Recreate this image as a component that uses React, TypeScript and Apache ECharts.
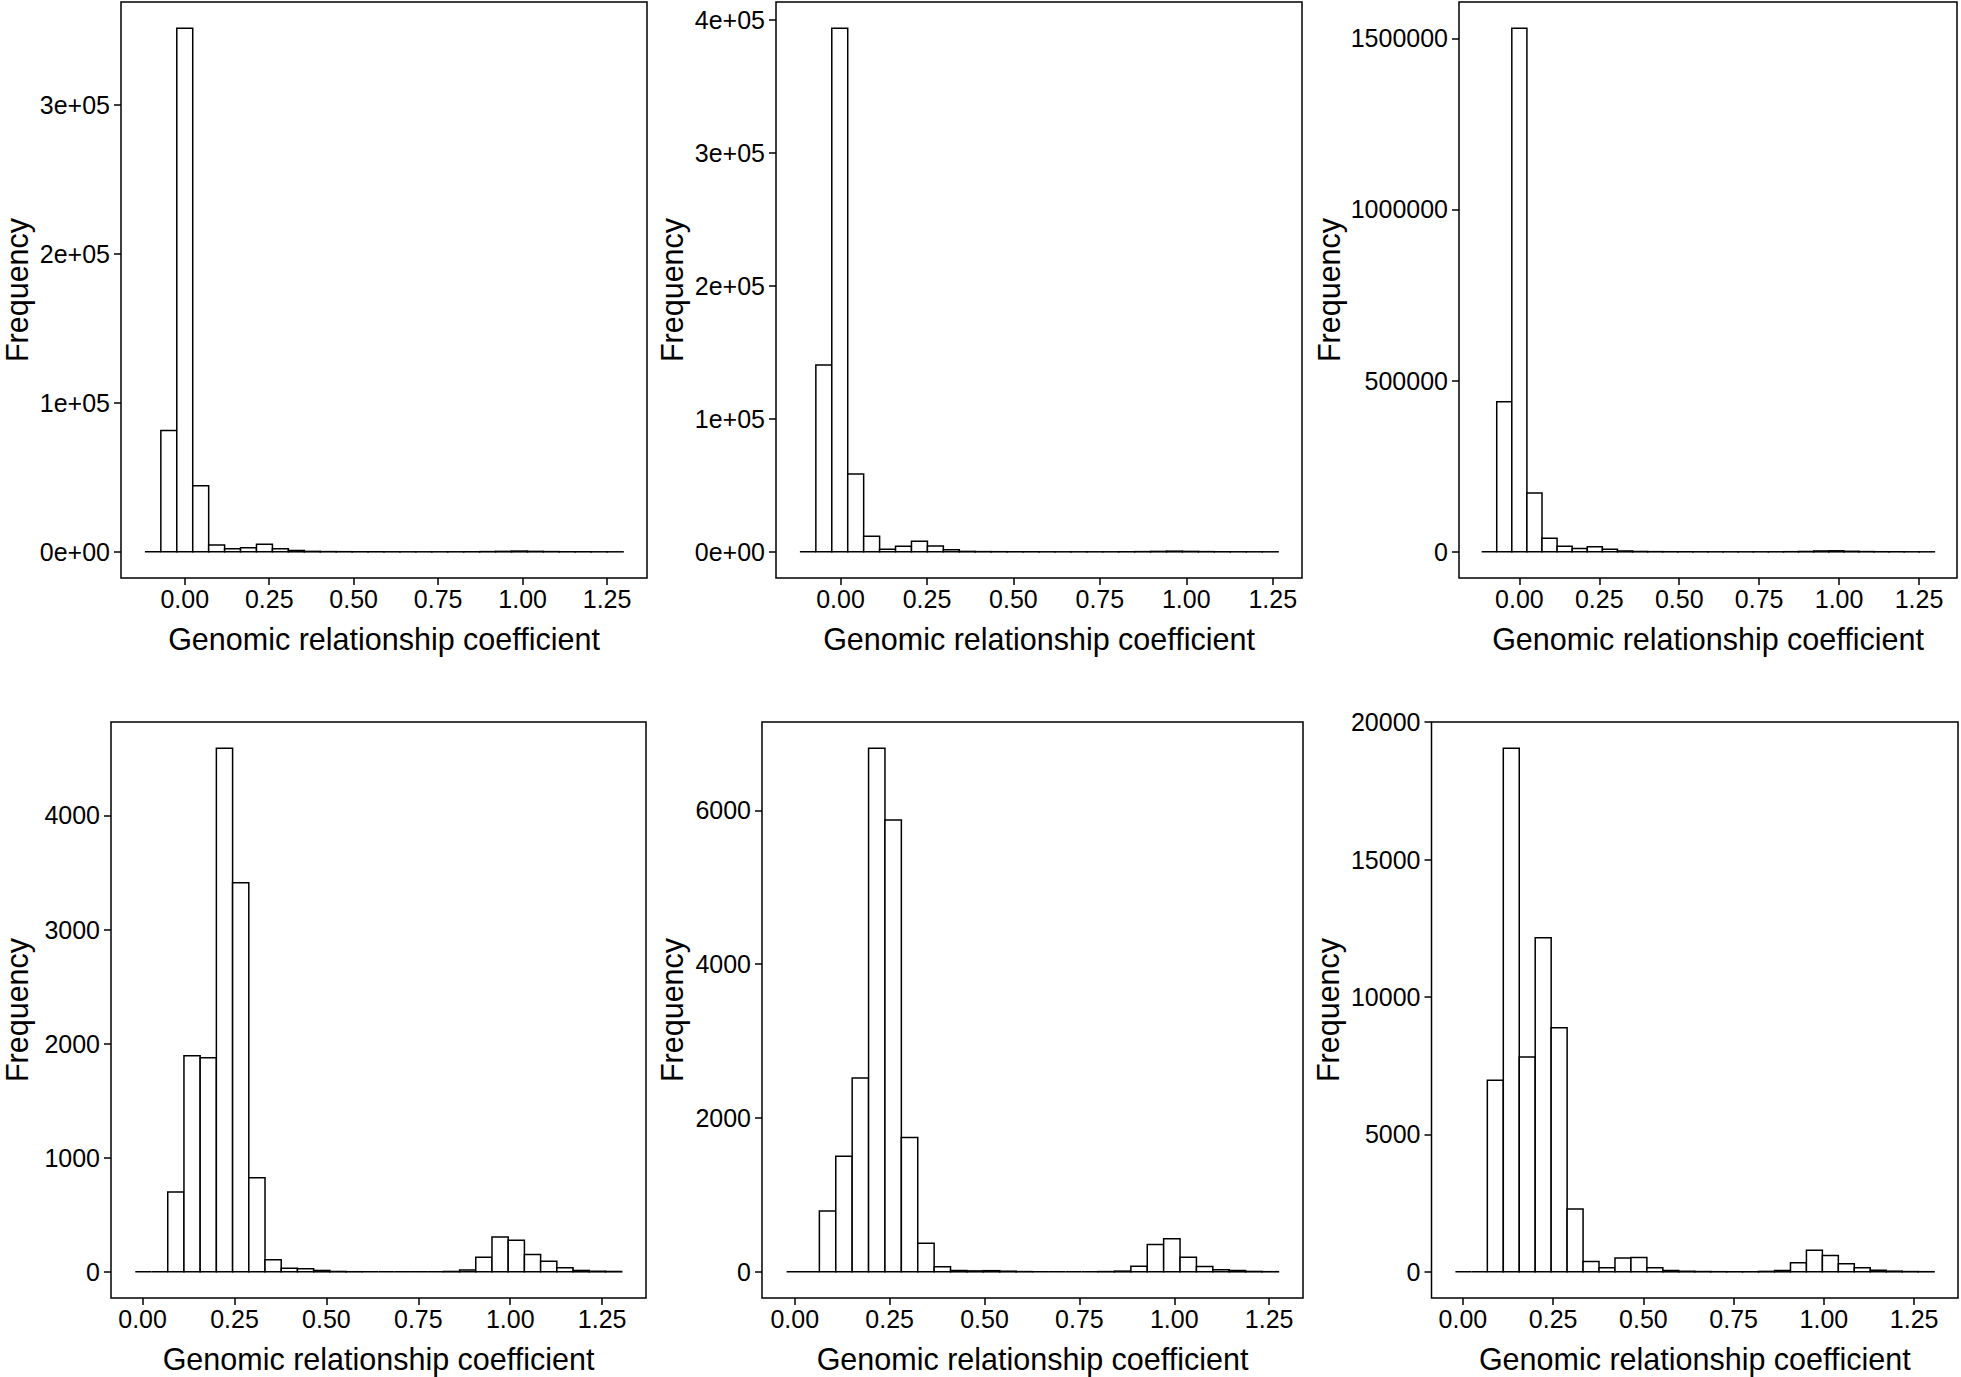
import React, { useEffect, useRef } from "react";
import * as echarts from "echarts";

// ---------- data ----------
const X_TITLE = "Genomic relationship coefficient";
const Y_TITLE = "Frequency";
const X_TICKS = [0, 0.25, 0.5, 0.75, 1.0, 1.25];

// Histogram counts, 30 bins per panel
const countsA = [0, 81400, 351700, 44300, 4500, 2000, 2800, 5100, 2000, 900, 300, 150, 100, 50, 30, 20, 10, 10, 10, 20, 50, 150, 300, 500, 300, 150, 60, 30, 10, 5];
const countsB = [0, 140500, 394000, 58500, 11700, 1900, 4100, 7900, 4400, 1600, 300, 150, 100, 60, 40, 20, 10, 10, 10, 20, 60, 150, 300, 500, 300, 150, 60, 30, 10, 5];
const countsC = [0, 438600, 1529500, 172000, 39300, 16000, 9800, 14700, 7400, 2500, 1000, 500, 300, 200, 100, 50, 30, 20, 30, 100, 400, 1000, 2500, 3000, 1500, 700, 300, 150, 60, 20];
const countsD = [0, 0, 700, 1895, 1877, 4590, 3411, 825, 105, 32, 26, 12, 3, 1, 0, 0, 0, 0, 0, 3, 15, 128, 306, 277, 152, 93, 35, 12, 5, 3];
const countsE = [0, 0, 792, 1502, 2520, 6809, 5874, 1745, 372, 65, 17, 12, 15, 8, 3, 0, 0, 0, 0, 3, 9, 74, 355, 429, 190, 69, 26, 17, 5, 2];
const countsF = [0, 0, 6970, 19050, 7816, 12157, 8879, 2283, 375, 145, 507, 519, 145, 48, 20, 10, 5, 3, 2, 15, 48, 326, 785, 592, 290, 145, 60, 24, 10, 5];

// bin width and left edge of the first bin for each panel
const binWidths = [0.04718, 0.0461, 0.0472, 0.0441, 0.0432, 0.0442];
const firstEdges = [-0.118, -0.1175, -0.118, -0.0198, -0.0216, -0.0207];

const yTicksA = [0, 100000, 200000, 300000];
const yTicksB = [0, 100000, 200000, 300000, 400000];
const yTicksC = [0, 500000, 1000000, 1500000];
const yTicksD = [0, 1000, 2000, 3000, 4000];
const yTicksE = [0, 2000, 4000, 6000];
const yTicksF = [0, 5000, 10000, 15000, 20000];

// ---------- layout ----------
const LAYOUT = [
  { left: 120, top: 2, width: 527, height: 576, yGap: 89, sci: true },
  { left: 776, top: 2, width: 526, height: 576, yGap: 89, sci: true },
  { left: 1459, top: 2, width: 498, height: 576, yGap: 115, sci: false },
  { left: 106, top: 722, width: 540, height: 576, yGap: 79, sci: false },
  { left: 762, top: 722, width: 541, height: 576, yGap: 75, sci: false },
  { left: 1431.5, top: 722, width: 526.5, height: 576, yGap: 88, sci: false },
];

const COUNTS = [countsA, countsB, countsC, countsD, countsE, countsF];
const Y_TICKS = [yTicksA, yTicksB, yTicksC, yTicksD, yTicksE, yTicksF];

const FONT = "'Liberation Sans', Arial, Helvetica, sans-serif";
const LW = 1.5;
const TICK_FS = 25;
const TITLE_FS = 30.5;

function sci(v: number): string {
  if (v === 0) return "0e+00";
  const e = Math.floor(Math.log10(Math.abs(v)) + 1e-9);
  const m = Math.round((v / Math.pow(10, e)) * 100) / 100;
  return `${m}e+${String(e).padStart(2, "0")}`;
}

function buildOption() {
  const grid: any[] = [];
  const xAxis: any[] = [];
  const yAxis: any[] = [];
  const series: any[] = [];

  COUNTS.forEach((counts, i) => {
    const lay = LAYOUT[i];
    const w = binWidths[i];
    const firstEdge = firstEdges[i];
    const lastEdge = firstEdge + counts.length * w;
    const span = lastEdge - firstEdge;
    const maxC = Math.max(...counts);

    grid.push({
      left: lay.left,
      top: lay.top,
      width: lay.width,
      height: lay.height,
      show: true,
      borderColor: "#000",
      borderWidth: LW,
      backgroundColor: "transparent",
      containLabel: false,
    });

    xAxis.push({
      type: "value",
      gridIndex: i,
      min: firstEdge - 0.05 * span,
      max: lastEdge + 0.05 * span,
      axisLine: { show: false, onZero: false },
      axisTick: {
        show: true,
        length: 7,
        customValues: X_TICKS,
        lineStyle: { color: "#000", width: LW },
      },
      axisLabel: {
        customValues: X_TICKS,
        formatter: (v: number) => v.toFixed(2),
        fontSize: TICK_FS,
        fontFamily: FONT,
        color: "#000",
        margin: 8,
      },
      splitLine: { show: false },
      name: X_TITLE,
      nameLocation: "middle",
      nameGap: 45,
      nameTextStyle: { fontSize: TITLE_FS, fontFamily: FONT, color: "#000" },
    });

    const yt = Y_TICKS[i];
    yAxis.push({
      type: "value",
      gridIndex: i,
      min: -0.05 * maxC,
      max: 1.05 * maxC,
      axisLine: { show: false, onZero: false },
      axisTick: {
        show: true,
        length: 7,
        customValues: yt,
        lineStyle: { color: "#000", width: LW },
      },
      axisLabel: {
        customValues: yt,
        formatter: (v: number) => (lay.sci ? sci(v) : String(v)),
        fontSize: TICK_FS,
        fontFamily: FONT,
        color: "#000",
        margin: 11,
      },
      splitLine: { show: false },
      name: Y_TITLE,
      nameLocation: "middle",
      nameGap: lay.yGap,
      nameTextStyle: { fontSize: TITLE_FS, fontFamily: FONT, color: "#000" },
    });

    const data = counts.map((c, j) => [firstEdge + j * w, firstEdge + (j + 1) * w, c]);
    series.push({
      type: "custom",
      xAxisIndex: i,
      yAxisIndex: i,
      data,
      encode: { x: [0, 1], y: 2 },
      clip: false,
      renderItem: (_params: any, api: any) => {
        const p0 = api.coord([api.value(0), 0]);
        const p1 = api.coord([api.value(1), api.value(2)]);
        return {
          type: "polygon",
          shape: {
            points: [
              [p0[0], p0[1]],
              [p0[0], p1[1]],
              [p1[0], p1[1]],
              [p1[0], p0[1]],
            ],
          },
          style: { fill: "#fff", stroke: "#000", lineWidth: LW },
        };
      },
    });
  });

  return {
    animation: false,
    backgroundColor: "#fff",
    grid,
    xAxis,
    yAxis,
    series,
  };
}

export default function App() {
  const ref = useRef<HTMLDivElement>(null);
  useEffect(() => {
    if (!ref.current) return;
    const chart = echarts.init(ref.current, undefined, { renderer: "svg" });
    chart.setOption(buildOption() as any);
    return () => chart.dispose();
  }, []);
  return (
    <div
      ref={ref}
      style={{ position: "fixed", left: 0, top: 0, width: 1961, height: 1377, background: "#fff" }}
    />
  );
}
